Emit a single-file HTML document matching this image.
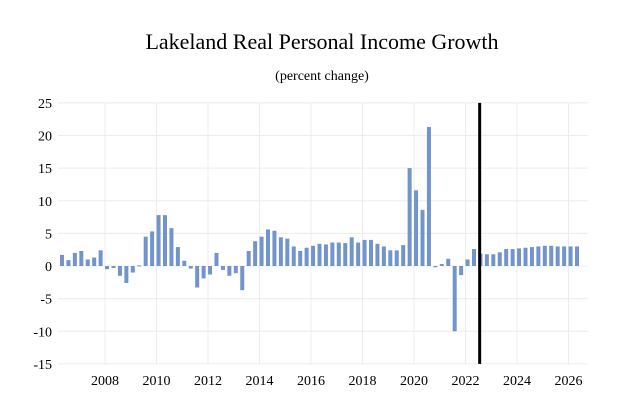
<!DOCTYPE html>
<html><head><meta charset="utf-8"><style>
body{margin:0;background:#fff;}
svg text{font-family:"Liberation Serif",serif;fill:#000;}
</style></head><body>
<svg width="627" height="415" xmlns="http://www.w3.org/2000/svg">
<text x="322" y="49" font-size="22" text-anchor="middle">Lakeland Real Personal Income Growth</text>
<text x="322" y="80" font-size="14" text-anchor="middle">(percent change)</text>
<g id="grid"></g><g id="bars"></g><g id="axes"></g>
</svg>
<script>
const startYear = 2006.33;
const values = [1.7,0.9,2.0,2.3,1.0,1.3,2.4,-0.5,-0.3,-1.5,-2.6,-1.0,0.1,
4.5,5.3,7.8,7.8,5.8,2.9,0.8,-0.4,-3.3,-1.9,-1.3,2.0,-0.6,-1.5,-1.1,-3.7,
2.3,3.8,4.5,5.6,5.4,4.4,4.2,3.0,2.3,2.8,3.1,3.4,3.3,3.6,3.6,3.5,4.4,3.6,4.0,4.0,3.4,3.0,2.4,2.4,3.2,
15.0,11.6,8.6,21.3,-0.2,0.3,1.1,-10.0,-1.4,1.0,2.6,
1.9,1.8,1.8,2.1,2.6,2.6,2.7,2.8,2.9,3.0,3.1,3.1,3.0,3.0,3.0,3.0];
const yTicks = [25,20,15,10,5,0,-5,-10,-15];
const xTicks = [2008,2010,2012,2014,2016,2018,2020,2022,2024,2026];
const forecastYear = 2022.55;
const NS="http://www.w3.org/2000/svg";
const y = v => 266 - v*6.525;
const x = yr => 105 + (yr-2008)*25.75;
function mk(tag,attrs,parent){const e=document.createElementNS(NS,tag);for(const k in attrs)e.setAttribute(k,attrs[k]);document.getElementById(parent).appendChild(e);return e;}
yTicks.forEach(t=>{
  const g=mk('line',{x1:58,x2:588,y1:y(t),y2:y(t),stroke:'#ececec','stroke-width':1},'grid');
  
  
  const l=mk('text',{x:52,y:y(t)+5,'font-size':14,'text-anchor':'end'},'axes');
  l.textContent=t;
  
  
});
xTicks.forEach(t=>{
  const g=mk('line',{x1:x(t),x2:x(t),y1:y(25),y2:y(-15),stroke:'#ececec','stroke-width':1},'grid');
  
  
  const l=mk('text',{x:x(t),y:385,'font-size':14,'text-anchor':'middle'},'axes');
  l.textContent=t;
  
  
});
values.forEach((v,i)=>{
  const cx=x(startYear+i*0.25);
  const r=mk('rect',{x:cx-2,y:Math.min(y(v),y(0)),width:4,height:Math.max(Math.abs(y(v)-y(0)),1),fill:'#7294cc'},'bars');
  
  
});
const f=mk('line',{x1:x(forecastYear),x2:x(forecastYear),y1:y(25),y2:y(-15),stroke:'#000','stroke-width':3},'axes');


</script>
</body></html>
